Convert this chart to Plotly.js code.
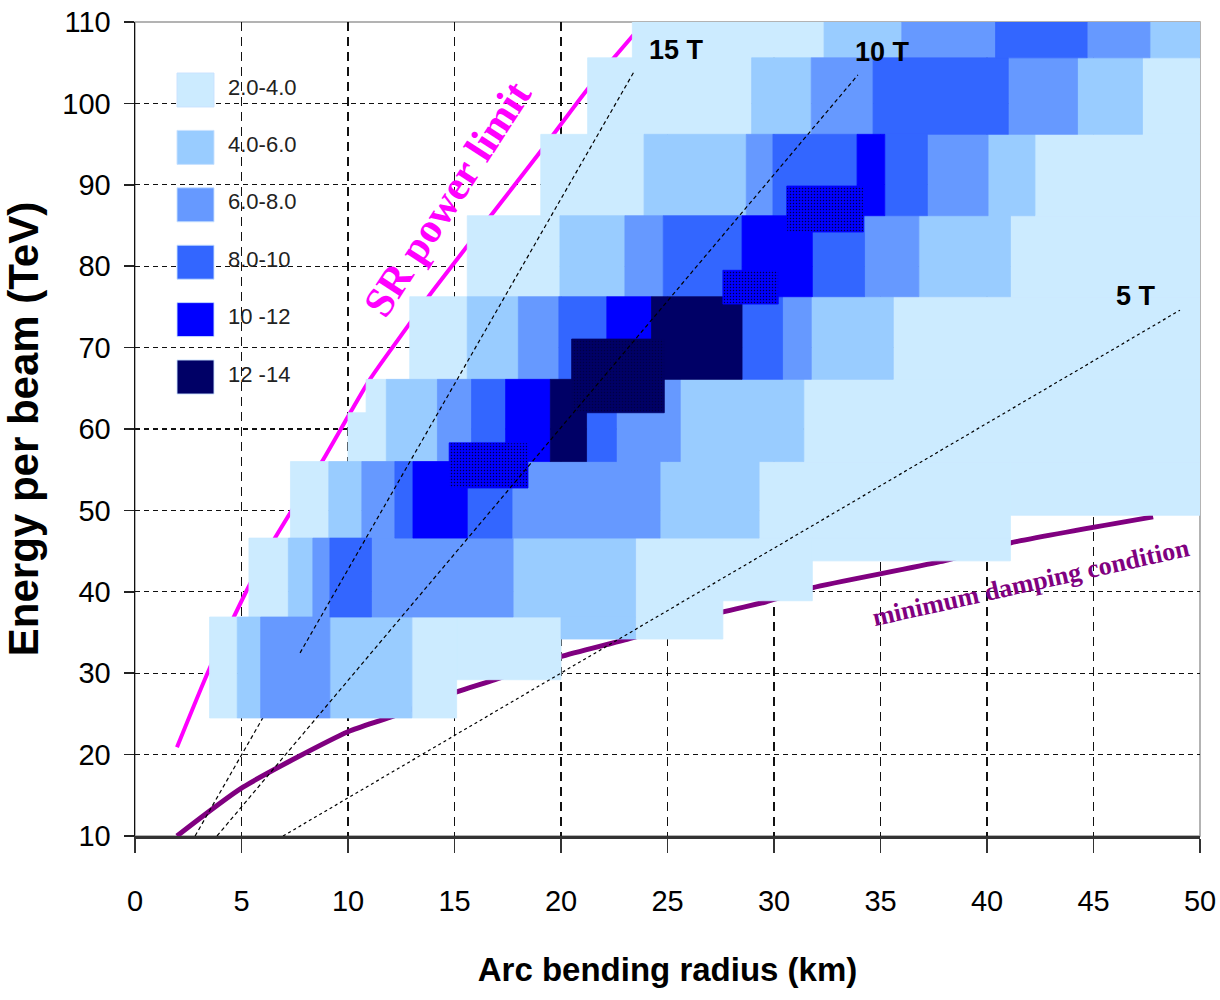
<!DOCTYPE html>
<html>
<head>
<meta charset="utf-8">
<script src="https://cdn.plot.ly/plotly-3.0.1.min.js"></script>
<style>
html,body{margin:0;padding:0;background:#ffffff;}
#chart{width:1220px;height:1000px;}
</style>
</head>
<body>
<div id="chart"></div>
<script>
// ---------- data ----------
const levelLabels = ['2.0-4.0', '4.0-6.0', '6.0-8.0', '8.0-10', '10 -12', '12 -14'];
const levelColors = ['#CCEBFF', '#99CCFF', '#6699FF', '#3366FF', '#0000FF', '#000066'];

// mosaic cells: arc radius range (km), energy range (TeV), field level (1..6), dotted texture flag
const cellRmin = [3.5, 4.8, 5.9, 9.15, 13.0, 15.1,
  5.35, 7.2, 8.35, 9.15, 11.1, 17.75, 20.0, 23.5, 27.6, 31.8,
  7.3, 9.1, 10.65, 12.2, 13.05, 15.6, 17.7, 24.65, 29.3, 41.1,
  10.0, 10.85, 11.8, 14.2, 15.8, 17.4, 19.5, 21.2, 22.6, 25.6, 31.4,
  12.9, 15.6, 18.0, 19.9, 22.15, 24.25, 28.5, 30.4, 31.75, 35.6,
  15.6, 19.95, 23.0, 24.8, 28.5, 31.8, 34.25, 36.8, 41.1,
  19.05, 23.9, 28.7, 29.95, 33.9, 35.2, 37.2, 40.05, 42.25,
  21.25, 28.95, 31.75, 34.65, 41.0, 44.25, 47.3,
  23.35, 32.35, 36.0, 40.4, 44.7, 47.65,
  14.75, 20.5, 27.6, 30.6];
const cellRmax = [4.8, 5.9, 9.15, 13.0, 15.1, 20.0,
  7.2, 8.35, 9.15, 11.1, 17.75, 23.5, 23.5, 27.6, 31.8, 41.1,
  9.1, 10.65, 12.2, 13.05, 15.6, 17.7, 24.65, 29.3, 41.1, 50,
  10.85, 11.8, 14.2, 15.8, 17.4, 19.5, 21.2, 22.6, 25.6, 31.4, 50,
  15.6, 18.0, 19.9, 22.15, 24.25, 28.5, 30.4, 31.75, 35.6, 50,
  19.95, 23.0, 24.8, 28.5, 31.8, 34.25, 36.8, 41.1, 50,
  23.9, 28.7, 29.95, 33.9, 35.2, 37.2, 40.05, 42.25, 50,
  28.95, 31.75, 34.65, 41.0, 44.25, 47.3, 50,
  32.35, 36.0, 40.4, 44.7, 47.65, 50,
  18.45, 24.85, 30.2, 34.2];
const cellEmin = [24.5, 24.5, 24.5, 24.5, 24.5, 29.2,
  36.9, 36.9, 36.9, 36.9, 36.9, 36.9, 34.2, 34.2, 38.9, 43.8,
  46.6, 46.6, 46.6, 46.6, 46.6, 46.6, 46.6, 46.6, 46.6, 49.4,
  56.0, 56.0, 56.0, 56.0, 56.0, 56.0, 56.0, 56.0, 56.0, 56.0, 56.0,
  66.1, 66.1, 66.1, 66.1, 71.05, 66.1, 66.1, 66.1, 66.1, 66.1,
  76.25, 76.25, 76.25, 76.25, 76.25, 76.25, 76.25, 76.25, 76.25,
  86.2, 86.2, 86.2, 86.2, 86.2, 86.2, 86.2, 86.2, 86.2,
  96.2, 96.2, 96.2, 96.2, 96.2, 96.2, 96.2,
  105.6, 105.6, 105.6, 105.6, 105.6, 105.6,
  52.75, 62.0, 75.35, 84.2];
const cellEmax = [36.9, 36.9, 36.9, 36.9, 36.9, 36.9,
  46.6, 46.6, 46.6, 46.6, 46.6, 46.6, 36.9, 46.6, 46.6, 46.6,
  56.0, 56.0, 56.0, 56.0, 56.0, 56.0, 56.0, 56.0, 56.0, 56.0,
  62.0, 66.1, 66.1, 66.1, 66.1, 66.1, 66.1, 66.1, 66.1, 66.1, 66.1,
  76.25, 76.25, 76.25, 76.25, 76.25, 76.25, 76.25, 76.25, 76.25, 76.25,
  86.2, 86.2, 86.2, 86.2, 86.2, 86.2, 86.2, 86.2, 86.2,
  96.2, 96.2, 96.2, 96.2, 96.2, 96.2, 96.2, 96.2, 96.2,
  105.6, 105.6, 105.6, 105.6, 105.6, 105.6, 105.6,
  110, 110, 110, 110, 110, 110,
  58.3, 71.05, 79.5, 89.85];
const cellLevel = [1, 2, 3, 2, 1, 1,
  1, 2, 3, 4, 3, 2, 2, 1, 1, 1,
  1, 2, 3, 4, 5, 4, 3, 2, 1, 1,
  1, 1, 2, 3, 4, 5, 6, 4, 3, 2, 1,
  1, 2, 3, 4, 5, 6, 4, 3, 2, 1,
  1, 2, 3, 4, 5, 4, 3, 2, 1,
  1, 2, 3, 4, 5, 4, 3, 2, 1,
  1, 2, 3, 4, 3, 2, 1,
  1, 2, 3, 4, 3, 2,
  5, 6, 5, 5];
const cellDotted = cellLevel.map((v, i) => i >= 78 ? 1 : 0);

// SR power limit curve
const srRadius = [1.97, 3.47, 5.31, 6.57, 8.78, 11.03, 12.91, 13.76, 19.1, 21.2, 23.4];
const srEnergy = [20.9, 30.4, 40.5, 46.6, 56.0, 66.1, 73.0, 76.2, 94.3, 101.6, 108.4];

// minimum damping condition curve
const dampRadius = [1.97, 5.07, 10.0, 11.88, 15.1, 16.9, 19.95, 23.0, 27.56, 29.6, 31.8, 37.8, 41.08, 47.8];
const dampEnergy = [10.0, 16.0, 22.8, 24.5, 27.7, 29.2, 32.0, 34.1, 37.5, 38.75, 40.5, 43.7, 46.0, 49.2];

// dipole field lines (end points)
const field15Under = {r: [2.82, 7.75], e: [10.0, 32.5]};
const field15 = {r: [7.75, 23.43], e: [32.5, 103.9]};
const field10 = {r: [3.85, 33.94], e: [10.0, 103.5]};
const field5 = {r: [6.95, 49.06], e: [10.0, 74.6]};

const fieldLabels = ['15 T', '10 T', '5 T'];
const fieldLabelR = [25.4, 35.1, 47.0];
const fieldLabelE = [106.6, 106.3, 76.3];

const xTickVals = [0, 5, 10, 15, 20, 25, 30, 35, 40, 45, 50];
const yTickVals = [10, 20, 30, 40, 50, 60, 70, 80, 90, 100, 110];

// ---------- build ----------
const SANS = '"Liberation Sans", Arial, sans-serif';
const SERIF = '"Liberation Serif", "Times New Roman", serif';

const traces = [];

// curves beneath the mosaic
traces.push({
  type: 'scatter', mode: 'lines', x: srRadius, y: srEnergy,
  line: {color: '#FF00FF', width: 4, shape: 'spline', smoothing: 0.6},
  hoverinfo: 'skip', showlegend: false
});
traces.push({
  type: 'scatter', mode: 'lines', x: dampRadius, y: dampEnergy,
  line: {color: '#800080', width: 5, shape: 'spline', smoothing: 0.6},
  hoverinfo: 'skip', showlegend: false
});
traces.push({
  type: 'scatter', mode: 'lines', x: field15Under.r, y: field15Under.e,
  line: {color: '#000', width: 1.2, dash: '4px,3px'},
  hoverinfo: 'skip', showlegend: false
});

// mosaic cells, one trace per level (dotted cells on top)
function cellTrace(level, dotted) {
  const xs = [], ys = [];
  for (let i = 0; i < cellLevel.length; i++) {
    if (cellLevel[i] !== level || cellDotted[i] !== dotted) continue;
    const r0 = cellRmin[i], r1 = cellRmax[i], e0 = cellEmin[i], e1 = cellEmax[i];
    xs.push(r0, r1, r1, r0, r0, null);
    ys.push(e0, e0, e1, e1, e0, null);
  }
  const col = levelColors[level - 1];
  const t = {
    type: 'scatter', mode: 'lines', x: xs, y: ys,
    fill: 'toself', fillcolor: col, connectgaps: false,
    line: {color: col, width: 0.8},
    hoverinfo: 'skip', showlegend: false, name: levelLabels[level - 1]
  };
  if (dotted) {
    t.fillpattern = {shape: '.', fgcolor: '#000044', bgcolor: col, size: 3, solidity: 0.18};
  }
  return t;
}
for (let lv = 1; lv <= 6; lv++) traces.push(cellTrace(lv, 0));
for (let lv = 1; lv <= 6; lv++) {
  if (cellLevel.some((v, i) => v === lv && cellDotted[i] === 1)) traces.push(cellTrace(lv, 1));
}

// field lines above the mosaic
[[field15, '4px,3px'], [field10, '4px,3px'], [field5, '3px,3px']].forEach(([f, d]) => {
  traces.push({
    type: 'scatter', mode: 'lines', x: f.r, y: f.e,
    line: {color: '#000', width: 1.2, dash: d},
    hoverinfo: 'skip', showlegend: false
  });
});

// ---------- layout ----------
const W = 1220, H = 1000, ML = 135, MR = 20, MT = 22, MB = 164;
const PW = W - ML - MR, PH = H - MT - MB;
const px2paperX = p => (p - ML) / PW;
const py2paperY = p => (H - MB - p) / PH;

const shapes = [];
const annotations = [];

// white legend backdrop and plot border (beneath traces)
shapes.push({type: 'rect', xref: 'paper', yref: 'paper', layer: 'between',
  x0: px2paperX(215), x1: px2paperX(354), y0: py2paperY(413), y1: py2paperY(63),
  fillcolor: '#ffffff', line: {width: 0}});
shapes.push({type: 'rect', xref: 'paper', yref: 'paper', layer: 'between',
  x0: 0, x1: 1, y0: 0, y1: 1, fillcolor: 'rgba(0,0,0,0)', line: {color: '#9a9a9a', width: 1.5}});

// custom legend
levelLabels.forEach((lab, i) => {
  const cy = 90 + i * 57.4;
  shapes.push({type: 'rect', xref: 'paper', yref: 'paper', layer: 'above',
    x0: px2paperX(177), x1: px2paperX(214), y0: py2paperY(cy + 17), y1: py2paperY(cy - 17),
    fillcolor: levelColors[i], line: {color: 'rgba(200,225,255,0.9)', width: 1}});
  annotations.push({xref: 'paper', yref: 'paper', x: px2paperX(226), y: py2paperY(cy - 3),
    xanchor: 'left', yanchor: 'middle', text: lab, showarrow: false,
    font: {family: SANS, size: 22, color: '#222'}});
});

// field labels
fieldLabels.forEach((lab, i) => {
  annotations.push({xref: 'x', yref: 'y', x: fieldLabelR[i], y: fieldLabelE[i], text: lab,
    showarrow: false, xanchor: 'center', yanchor: 'middle',
    font: {family: SANS, size: 27, color: '#000', weight: 'bold'}});
});

annotations.push({xref: 'x', yref: 'y', x: 14.65, y: 88.3, text: 'SR power limit',
  showarrow: false, textangle: -57, font: {family: SERIF, size: 42, color: '#FF00FF', weight: 'bold'}});
annotations.push({xref: 'x', yref: 'y', x: 42.07, y: 41.1, text: 'minimum damping condition',
  showarrow: false, textangle: -12.6, font: {family: SERIF, size: 26, color: '#800080', weight: 'bold'}});

const layout = {
  width: W, height: H,
  margin: {l: ML, r: MR, t: MT, b: MB, pad: 0},
  paper_bgcolor: '#ffffff', plot_bgcolor: '#ffffff',
  showlegend: false,
  xaxis: {
    range: [0, 50], tickvals: xTickVals, ticktext: xTickVals.map(String),
    showgrid: true, gridcolor: '#111', gridwidth: 1.3, griddash: '9px,6px',
    zeroline: false, showline: true, linecolor: '#333', linewidth: 2.5,
    ticks: 'outside', ticklen: 14, tickwidth: 1.5, tickcolor: '#333',
    ticklabelstandoff: 24,
    tickfont: {family: SANS, size: 29, color: '#000'},
    title: {text: 'Arc bending radius (km)', standoff: 42,
      font: {family: SANS, size: 33, color: '#000', weight: 'bold'}},
    automargin: false, fixedrange: true
  },
  yaxis: {
    range: [10, 110], tickvals: yTickVals, ticktext: yTickVals.map(String),
    showgrid: true, gridcolor: '#111', gridwidth: 1.3, griddash: '5px,4px',
    zeroline: false, showline: true, linecolor: '#111', linewidth: 1.5,
    ticks: 'outside', ticklen: 10, tickwidth: 1.5, tickcolor: '#222',
    ticklabelstandoff: 7,
    tickfont: {family: SANS, size: 29, color: '#000'},
    title: {text: 'Energy per beam (TeV)', standoff: 10,
      font: {family: SANS, size: 42, color: '#000', weight: 'bold'}},
    automargin: false, fixedrange: true
  },
  shapes: shapes,
  annotations: annotations
};

Plotly.newPlot('chart', traces, layout, {displayModeBar: false, staticPlot: true, responsive: false});
</script>
</body>
</html>
